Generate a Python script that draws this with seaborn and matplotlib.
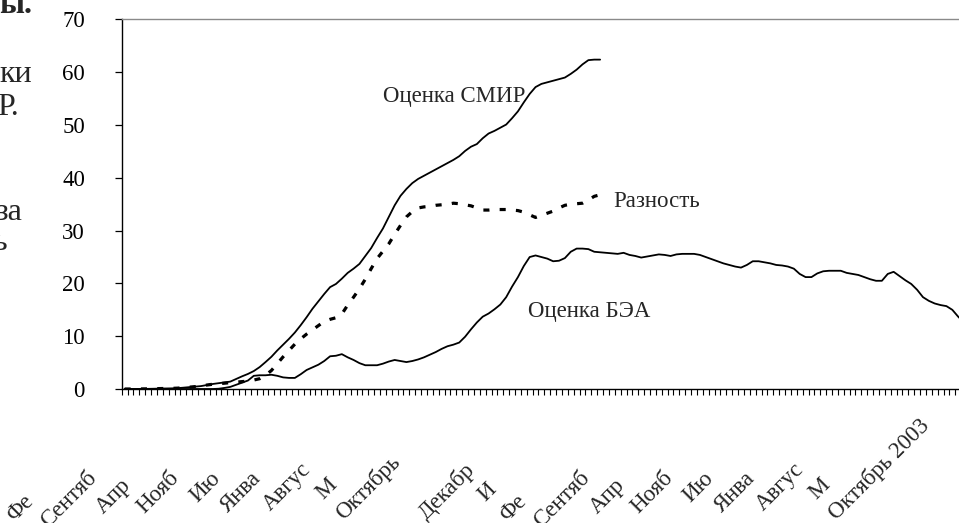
import numpy as np
import pandas as pd
import matplotlib
matplotlib.use('Agg')
import matplotlib.pyplot as plt
import seaborn as sns

# monthly values, Feb 1992 onwards (index 0 = Feb 1992)
smir = [0, 0, 0, 0.02, 0.03, 0.05, 0.08, 0.1, 0.12, 0.16,
        0.25, 0.35, 0.45, 0.55, 0.75, 0.95, 1.1, 1.25, 1.4, 1.9,
        2.4, 2.85, 3.4, 4.15, 5.1, 6.1, 7.3, 8.4, 9.5, 10.7,
        12.1, 13.6, 15.2, 16.6, 18.0, 19.3, 19.9, 20.9, 22.0, 22.8,
        23.7, 25.2, 26.7, 28.6, 30.4, 32.6, 34.8, 36.6, 37.9, 39.0,
        39.8, 40.4, 41.0, 41.6, 42.2, 42.8, 43.4, 44.1, 45.1, 45.9,
        46.4, 47.5, 48.4, 48.9, 49.5, 50.1, 51.3, 52.6, 54.3, 55.9,
        57.2, 57.8, 58.1, 58.4, 58.7, 59.0, 59.7, 60.5, 61.5, 62.3,
        62.4, 62.4]

diff = [0, 0, 0, 0.02, 0.03, 0.05, 0.08, 0.1, 0.12, 0.16,
        0.25, 0.35, 0.45, 0.55, 0.75, 0.9, 1.0, 1.1, 1.2, 1.3,
        1.4, 1.5, 1.7, 1.95, 2.6, 3.5, 4.8, 6.1, 7.3, 8.5,
        9.5, 10.4, 11.2, 12.0, 12.8, 13.2, 13.5, 14.2, 15.9, 17.4,
        19.0, 20.8, 22.8, 24.7, 26.1, 27.5, 29.3, 31.0, 32.6, 33.6,
        34.3, 34.5, 34.6, 34.8, 34.9, 35.0, 35.2, 35.1, 34.9, 34.7,
        34.3, 33.9, 33.9, 34.0, 34.0, 34.0, 33.9, 33.8, 33.5, 33.0,
        32.5, 32.9, 33.3, 33.7, 34.3, 34.8, 35.0, 35.1, 35.2, 35.8,
        36.5, 36.8]

bea = [0, 0, 0, 0, 0, 0, 0, 0, 0, 0,
       0, 0, 0, 0, 0, 0, 0.05, 0.2, 0.4, 0.8,
       1.2, 1.6, 2.5, 2.6, 2.6, 2.7, 2.5, 2.2, 2.1, 2.1,
       2.8, 3.6, 4.1, 4.6, 5.3, 6.2, 6.3, 6.6, 6.0, 5.5,
       4.9, 4.5, 4.5, 4.5, 4.8, 5.2, 5.5, 5.3, 5.1, 5.3,
       5.6, 6.0, 6.5, 7.0, 7.6, 8.1, 8.4, 8.8, 9.9, 11.3,
       12.6, 13.7, 14.3, 15.1, 16.0, 17.4, 19.4, 21.2, 23.3, 25.0,
       25.3, 25.0, 24.7, 24.2, 24.3, 24.8, 26.0, 26.6, 26.6, 26.5,
       26.0, 25.9, 25.8, 25.7, 25.6, 25.8, 25.4, 25.2, 24.9, 25.1,
       25.3, 25.5, 25.4, 25.2, 25.5, 25.6, 25.6, 25.6, 25.4, 25.0,
       24.6, 24.2, 23.8, 23.5, 23.2, 23.0, 23.5, 24.2, 24.2, 24.0,
       23.8, 23.5, 23.4, 23.2, 22.8, 21.8, 21.2, 21.2, 21.9, 22.3,
       22.4, 22.4, 22.4, 22.0, 21.8, 21.6, 21.2, 20.8, 20.5, 20.5,
       21.8, 22.2, 21.4, 20.6, 19.9, 18.8, 17.4, 16.7, 16.2, 15.9,
       15.7, 15.0, 13.7, 12.6]

# category labels every 7 months; only the visible part of each is printed
tick_labels = ['Фе', 'Сентяб', 'Апр', 'Нояб', 'Ию', 'Янва', 'Авгус', 'М',
               'Октябрь', '', 'Декабр', 'И', 'Фе', 'Сентяб', 'Апр', 'Нояб',
               'Ию', 'Янва', 'Авгус', 'М', 'Октябрь 2003']
full_labels = ['Февраль 1992', 'Сентябрь 1992', 'Апрель 1993', 'Ноябрь 1993',
               'Июнь 1994', 'Январь 1995', 'Август 1995', 'Март 1996',
               'Октябрь 1996', 'Май 1997', 'Декабрь 1997', 'Июль 1998',
               'Февраль 1999', 'Сентябрь 1999', 'Апрель 2000', 'Ноябрь 2000',
               'Июнь 2001', 'Январь 2002', 'Август 2002', 'Март 2003',
               'Октябрь 2003']
label_step = 7
n_months = 144

sns.set_theme(style='white')
plt.rcParams['font.family'] = ['Liberation Serif', 'DejaVu Serif']
fs = 16.5

W, H = 959, 523
fig = plt.figure(figsize=(W / 100, H / 100), dpi=100)
ax = fig.add_axes([121.7 / W, (H - 389) / H, (967 - 121.7) / W, (389 - 19.5) / H])

df_smir = pd.DataFrame({'month': np.arange(len(smir)), 'value': smir})
df_diff = pd.DataFrame({'month': np.arange(len(diff)), 'value': diff})
df_bea = pd.DataFrame({'month': np.arange(len(bea)), 'value': bea})

sns.lineplot(data=df_smir, x='month', y='value', ax=ax, color='black', lw=1.3)
sns.lineplot(data=df_bea, x='month', y='value', ax=ax, color='black', lw=1.3)
sns.lineplot(data=df_diff, x='month', y='value', ax=ax, color='black', lw=2.3,
             linestyle=(0, (1.9, 3.2)))

ax.set_xlim(-0.5, n_months - 0.5)
ax.set_ylim(0, 70)
ax.set_xlabel('')
ax.set_ylabel('')
ax.set_yticks(range(0, 71, 10))
ax.tick_params(axis='y', direction='out', length=5, width=0.9, color='black',
               pad=21.5, labelsize=fs, left=True, labelcolor='black')
ax.set_xticks(np.arange(-0.5, n_months, 1))
ax.tick_params(axis='x', direction='out', length=4.3, width=0.8, color='black',
               bottom=True, labelbottom=False)
for side in ['left', 'bottom']:
    ax.spines[side].set_color('black')
    ax.spines[side].set_linewidth(1.0)
ax.spines['top'].set_color('#8a8a8a')
ax.spines['top'].set_linewidth(1.0)
ax.spines['right'].set_visible(False)

ax.text(44.0, 54.4, 'Оценка СМИР', fontsize=fs, ha='left', va='baseline')
ax.text(83.2, 34.5, 'Разность', fontsize=fs, ha='left', va='baseline')
ax.text(68.7, 13.7, 'Оценка БЭА', fontsize=fs, ha='left', va='baseline')

# rotated category labels: the full label would end just left of its tick,
# only the first part of each one is visible in the source
fig.canvas.draw()
renderer = fig.canvas.get_renderer()
c = np.cos(np.radians(45))
for k, (short, full) in enumerate(zip(tick_labels, full_labels)):
    xd = ax.transData.transform((k * label_step, 0))[0]
    ex, ey = xd - 16, H - 427
    probe = fig.text(0, 0, full, fontsize=fs)
    w = probe.get_window_extent(renderer).width
    probe.remove()
    sx, sy = ex - w * c, ey - w * c
    fig.text(sx / W, sy / H, short, fontsize=fs, rotation=45,
             rotation_mode='anchor', ha='left', va='baseline')

# fragments of the surrounding page text, cut off at the left edge
fig.text(32 / W, (H - 13) / H, 'ы.', fontsize=23, fontweight='bold',
         ha='right', va='baseline')
fig.text(32 / W, (H - 82) / H, 'ки', fontsize=23, ha='right', va='baseline')
fig.text(19 / W, (H - 115) / H, 'Р.', fontsize=23, ha='right', va='baseline')
fig.text(22 / W, (H - 220) / H, 'за', fontsize=23, ha='right', va='baseline')
fig.text(7 / W, (H - 250) / H, 'ь', fontsize=23, ha='right', va='baseline')

fig.savefig('out.png', dpi=100, facecolor='white')
